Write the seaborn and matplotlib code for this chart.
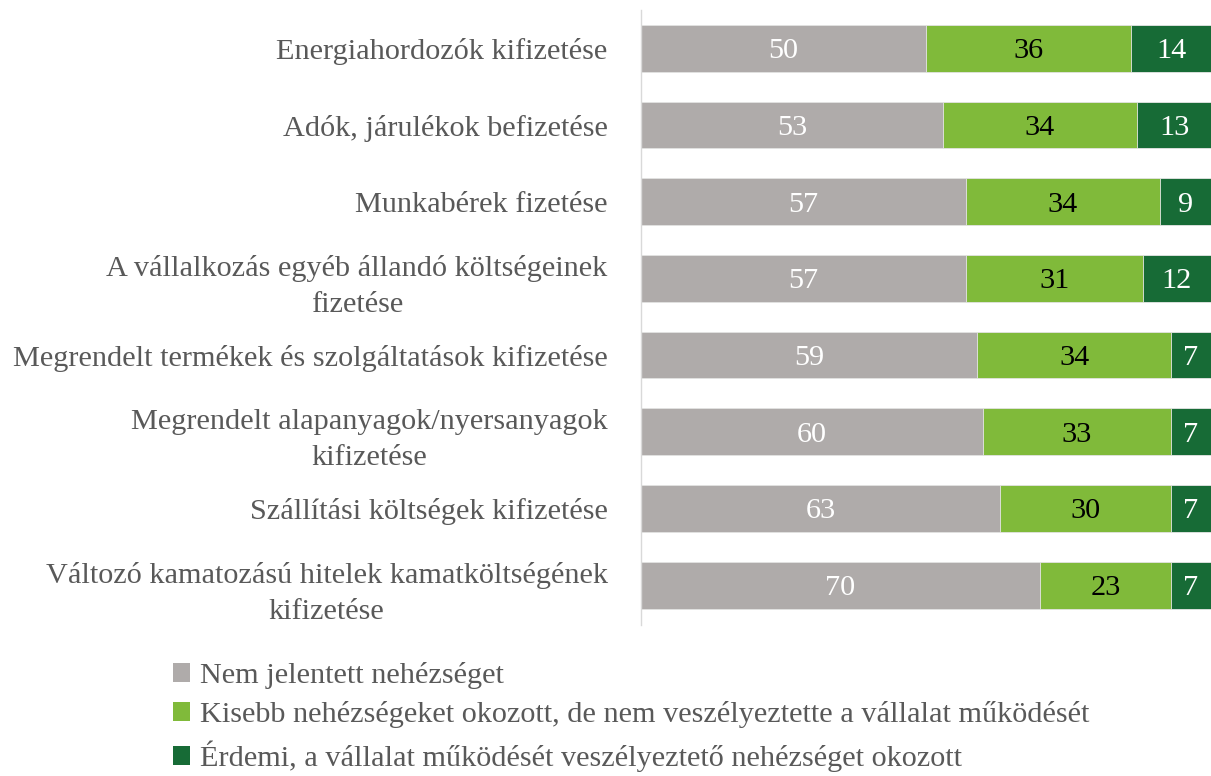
import seaborn as sns
import matplotlib.pyplot as plt
import pandas as pd
from matplotlib.patches import Patch

categories = [
    "Energiahordozók kifizetése",
    "Adók, járulékok befizetése",
    "Munkabérek fizetése",
    "A vállalkozás egyéb állandó költségeinek\nfizetése",
    "Megrendelt termékek és szolgáltatások kifizetése",
    "Megrendelt alapanyagok/nyersanyagok\nkifizetése",
    "Szállítási költségek kifizetése",
    "Változó kamatozású hitelek kamatköltségének\nkifizetése",
]
nem = [50, 53, 57, 57, 59, 60, 63, 70]
kisebb = [36, 34, 34, 31, 34, 33, 30, 23]
erdemi = [14, 13, 9, 12, 7, 7, 7, 7]
series_names = [
    "Nem jelentett nehézséget",
    "Kisebb nehézségeket okozott, de nem veszélyeztette a vállalat működését",
    "Érdemi, a vállalat működését veszélyeztető nehézséget okozott",
]
colors = ["#AFABAA", "#80BA3A", "#176B36"]
text_colors = ["white", "black", "white"]

FS = 21.8

sns.set_theme(style="white")
plt.rcParams["font.family"] = ["Liberation Serif", "DejaVu Serif"]

fig = plt.figure(figsize=(12.11, 7.76), dpi=100)
ax = fig.add_axes([0.5293, 0.1946, 0.4707, 0.7925])

df = pd.DataFrame({"cat": categories, "nem": nem, "kisebb": kisebb, "erdemi": erdemi})
df["c1"] = df["nem"]
df["c2"] = df["nem"] + df["kisebb"]
df["c3"] = df["c2"] + df["erdemi"]

for col, color in [("c3", colors[2]), ("c2", colors[1]), ("c1", colors[0])]:
    sns.barplot(data=df, y="cat", x=col, order=categories, color=color, orient="h",
                width=0.61, saturation=1, ax=ax, edgecolor="#E6E6E6", linewidth=0.6)

for i in range(len(categories)):
    starts = [0, nem[i], nem[i] + kisebb[i]]
    vals = [nem[i], kisebb[i], erdemi[i]]
    for s, v, tc in zip(starts, vals, text_colors):
        ax.text(s + v / 2, i, f"{v}", ha="center", va="center_baseline", color=tc, fontsize=FS)

ax.set_xlim(0, 100)
ax.set_ylim(7.52, -0.5)
ax.set_xlabel("")
ax.set_ylabel("")
ax.set_xticks([])
ax.set_yticks(range(len(categories)))
ax.set_yticklabels(categories, ha="right", multialignment="center", color="#595959",
                   fontsize=FS, linespacing=1.5)
ax.tick_params(axis="y", length=0, pad=24)
for side in ["top", "right", "bottom"]:
    ax.spines[side].set_visible(False)
ax.spines["left"].set_color("#D9D9D9")
ax.spines["left"].set_linewidth(1)

handles = [Patch(facecolor=c, edgecolor="none") for c in colors]
fig.legend(handles, series_names, loc="upper left", bbox_to_anchor=(0.143, 0.147),
           frameon=False, handlelength=0.57, handleheight=0.57, handletextpad=0.3,
           labelspacing=0.41, fontsize=FS, labelcolor="#595959", borderaxespad=0,
           borderpad=0)

fig.savefig("out.png", dpi=100)
